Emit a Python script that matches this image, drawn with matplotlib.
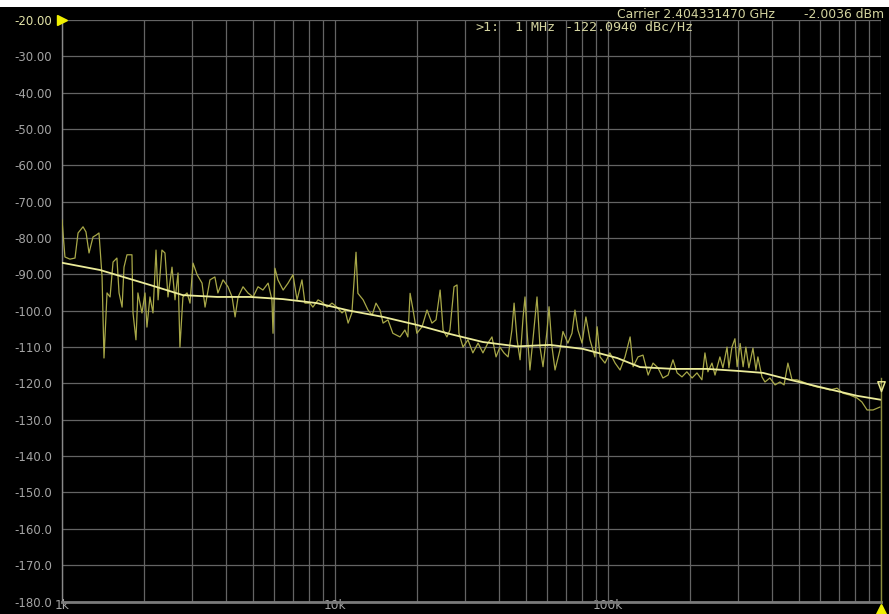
import matplotlib
matplotlib.use("Agg")
import matplotlib.pyplot as plt
from matplotlib.patches import Rectangle
from matplotlib.path import Path
import numpy as np

# Smoothed phase-noise trace (offset frequency in kHz, level in dBc/Hz)
smooth_freq_khz = [1.00, 1.38, 2.10, 2.77, 3.70, 4.88, 6.45, 8.59, 11.35, 15.0,
                   19.95, 26.4, 34.8, 46.4, 61.3, 81.0, 108, 131, 173, 231,
                   305, 370, 464, 614, 817, 1000]
smooth_dbc = [-86.8, -88.8, -92.9, -95.7, -96.2, -96.2, -96.8, -97.9, -100.0, -101.7,
              -103.9, -106.4, -108.6, -109.8, -109.4, -110.5, -113.0, -115.5, -116.0, -116.0,
              -116.6, -117.1, -119.0, -121.2, -123.4, -124.5]

# Raw (unsmoothed) phase-noise trace
raw_freq_khz = [
    1.000, 1.025, 1.069, 1.116, 1.145, 1.194, 1.224, 1.256, 1.299, 1.333,
    1.366, 1.402, 1.425, 1.462, 1.500, 1.538, 1.589, 1.618, 1.660, 1.687,
    1.730, 1.804, 1.820, 1.866, 1.897, 1.963, 2.014, 2.047, 2.100, 2.154,
    2.210, 2.249, 2.323, 2.383, 2.445, 2.529, 2.594, 2.661, 2.704, 2.773,
    2.871, 2.944, 3.020, 3.126, 3.258, 3.342, 3.483, 3.631, 3.724, 3.890,
    4.055, 4.198, 4.305, 4.416, 4.603, 4.798, 5.012, 5.224, 5.445, 5.689,
    5.875, 5.929, 6.026, 6.180, 6.457, 6.730, 7.015, 7.261, 7.568, 7.762,
    8.091, 8.299, 8.670, 8.954, 9.354, 9.750, 10.16, 10.61, 10.88, 11.17,
    11.53, 11.94, 12.13, 12.68, 13.21, 13.68, 14.13, 14.62, 15.00, 15.63,
    16.29, 17.30, 18.03, 18.49, 18.84, 19.32, 19.95, 20.84, 21.73, 22.65,
    23.44, 24.27, 24.89, 25.70, 26.36, 27.29, 27.99, 28.44, 29.44, 30.69,
    31.99, 33.42, 34.83, 36.31, 37.58, 38.90, 40.18, 41.59, 43.05, 44.46,
    45.29, 46.45, 47.64, 48.87, 49.66, 50.47, 51.76, 53.09, 54.95, 56.36,
    57.81, 59.84, 60.81, 62.37, 63.97, 66.68, 68.39, 71.29, 73.79, 75.68,
    77.62, 80.35, 82.99, 85.90, 89.54, 91.20, 93.54, 97.50, 101.6, 106.2,
    110.7, 115.4, 120.5, 123.6, 128.8, 134.3, 140.3, 146.2, 152.4, 158.9,
    166.0, 173.0, 179.1, 186.6, 194.5, 203.2, 211.8, 220.8, 226.5, 232.3,
    240.4, 246.6, 257.0, 263.6, 272.9, 277.3, 284.4, 291.7, 297.2, 304.8,
    312.6, 319.9, 328.1, 339.6, 348.3, 354.0, 366.4, 375.8, 391.7, 409.3,
    426.6, 441.6, 456.0, 472.1, 492.0, 517.6, 549.5, 583.4, 613.8, 650.1,
    690.2, 726.1, 769.1, 816.6, 851.1, 889.2, 935.4, 990.8]
raw_dbc = [
    -75.0, -85.2, -85.8, -85.5, -78.6, -76.9, -78.3, -84.1, -79.7, -79.2,
    -78.6, -90.6, -113.0, -95.1, -96.2, -86.6, -85.5, -95.1, -99.0, -88.0,
    -84.6, -84.6, -100.6, -108.0, -95.1, -100.6, -95.1, -104.5, -96.2, -100.6,
    -83.3, -97.0, -83.3, -84.1, -96.2, -88.0, -97.0, -89.6, -110.0, -96.2,
    -95.1, -97.9, -86.9, -90.1, -92.4, -99.0, -91.5, -90.7, -95.1, -91.5,
    -93.4, -96.2, -101.7, -96.2, -93.4, -95.1, -96.2, -93.4, -94.3, -92.4,
    -97.0, -106.2, -88.3, -91.5, -94.3, -92.4, -90.1, -97.0, -91.5, -97.9,
    -97.9, -99.0, -97.0, -97.6, -99.0, -97.9, -99.0, -100.6, -99.8, -103.4,
    -100.6, -83.9, -95.2, -97.0, -99.8, -101.2, -97.9, -99.8, -103.4, -102.5,
    -106.2, -107.2, -105.3, -107.2, -95.2, -99.8, -106.2, -104.4, -99.8, -103.4,
    -102.5, -94.3, -105.3, -107.2, -105.3, -93.4, -92.9, -106.2, -110.0, -108.0,
    -111.6, -108.9, -111.6, -108.9, -107.2, -112.7, -110.0, -111.6, -112.7, -105.3,
    -97.9, -108.0, -113.5, -101.7, -96.2, -105.3, -116.3, -108.0, -96.2, -110.0,
    -115.4, -105.3, -98.9, -110.0, -116.3, -110.8, -105.7, -108.9, -106.2, -99.8,
    -105.3, -108.9, -101.7, -108.0, -112.7, -104.4, -112.7, -114.4, -111.6, -114.4,
    -116.3, -112.7, -107.2, -115.4, -112.7, -112.2, -117.7, -114.4, -115.7, -118.5,
    -117.7, -113.5, -117.1, -118.2, -116.8, -118.5, -117.1, -119.0, -111.6, -116.8,
    -114.4, -117.7, -112.7, -115.7, -110.0, -115.7, -110.0, -107.7, -115.4, -109.0,
    -115.4, -110.0, -115.7, -110.3, -116.3, -112.7, -118.2, -119.6, -118.5, -120.4,
    -119.6, -120.4, -114.4, -119.0, -119.0, -119.6, -120.4, -121.0, -121.3, -121.8,
    -121.3, -122.7, -123.2, -124.0, -125.1, -127.3, -127.3, -126.5]

# Marker 1 readout
marker_freq_khz = 1000.0
marker_dbc = -122.0940

y_ticks = list(range(-20, -190, -10))
y_tick_labels = [f"{v:.2f}" if v > -100 else f"{v:.1f}" for v in y_ticks]
x_ticks_khz = [1, 10, 100, 1000]
x_tick_labels = ["1k", "10k", "100k", ""]

W, H = 889, 614
fig = plt.figure(figsize=(W / 100, H / 100), dpi=100, facecolor="black")
ax = fig.add_axes([62 / W, 12.5 / H, 819 / W, 581.5 / H], facecolor="black")

grid_col = "#646464"
ax.set_xscale("log")
ax.set_xlim(1, 1000)
ax.set_ylim(-180, -20)

ax.set_yticks(y_ticks)
ax.set_yticklabels(y_tick_labels)
ax.set_xticks(x_ticks_khz)
ax.set_xticklabels(x_tick_labels)
ax.set_xticks([m * 10 ** d for d in range(3) for m in range(2, 10)], minor=True)
ax.xaxis.set_minor_formatter(matplotlib.ticker.NullFormatter())

ax.grid(True, which="both", axis="x", color=grid_col, linewidth=0.9)
ax.grid(True, which="major", axis="y", color=grid_col, linewidth=0.9)
ax.set_axisbelow(True)

ax.tick_params(axis="both", which="both", length=0, colors="#a4a4a4")
ax.tick_params(axis="y", pad=7, labelsize=8.5)
ax.tick_params(axis="x", pad=-1.5, labelsize=8.8)
for lab in ax.get_yticklabels():
    lab.set_color("#a4a4a4")
ax.get_yticklabels()[0].set_color("#e4e4a8")

for side in ("top", "right"):
    ax.spines[side].set_visible(False)
ax.spines["left"].set_color("#8a8a8a")
ax.spines["left"].set_linewidth(1.0)
ax.spines["bottom"].set_color("#7a7a7a")
ax.spines["bottom"].set_linewidth(2.0)

# traces
ax.plot(raw_freq_khz, raw_dbc, color="#a8a848", linewidth=0.9, zorder=3)
ax.plot(smooth_freq_khz, smooth_dbc, color="#ecec9a", linewidth=1.3, zorder=4)

# marker 1: vertical line and a down-pointing outline triangle with its tip on the value
ax.plot([marker_freq_khz, marker_freq_khz], [-180, marker_dbc + 3.5],
        color="#8c8c3c", linewidth=1.0, zorder=5, clip_on=False)
tip_marker = Path([(0, 0), (-0.6, 1.6), (0.6, 1.6), (0, 0)],
                  [Path.MOVETO, Path.LINETO, Path.LINETO, Path.CLOSEPOLY])
ax.plot([marker_freq_khz], [marker_dbc], marker=tip_marker, markersize=14,
        markerfacecolor="none", markeredgecolor="#e8e890", markeredgewidth=1.1,
        zorder=6, clip_on=False)

# reference-level arrow at the left and the stimulus arrow at the bottom right
ax.plot([1.0], [-20], marker=">", markersize=7, color="#f0f000", zorder=6,
        clip_on=False)
ax.plot([marker_freq_khz], [-182.0], marker="^", markersize=7, color="#f0f000",
        zorder=6, clip_on=False)

# header strip and readouts
fig.patches.append(Rectangle((0, 1 - 7 / H), 1, 7 / H, transform=fig.transFigure,
                             facecolor="white", edgecolor="none"))
fig.text(617 / W, 1 - 14.5 / H, "Carrier 2.404331470 GHz", color="#d4d4a0",
         fontsize=8.9, va="center", ha="left")
fig.text(884 / W, 1 - 14.5 / H, "-2.0036 dBm", color="#d4d4a0",
         fontsize=8.9, va="center", ha="right")
fig.text(475 / W, 1 - 27.5 / H, ">1:", color="#d4d4a0", family="DejaVu Sans Mono",
         fontsize=9.6, va="center", ha="left")
fig.text(515 / W, 1 - 27.5 / H, "1 MHz", color="#d4d4a0", family="DejaVu Sans Mono",
         fontsize=9.6, va="center", ha="left")
fig.text(565 / W, 1 - 27.5 / H, f"{marker_dbc:.4f} dBc/Hz", color="#d4d4a0",
         family="DejaVu Sans Mono", fontsize=9.6, va="center", ha="left")

fig.savefig("out.png", dpi=100, facecolor="black")
